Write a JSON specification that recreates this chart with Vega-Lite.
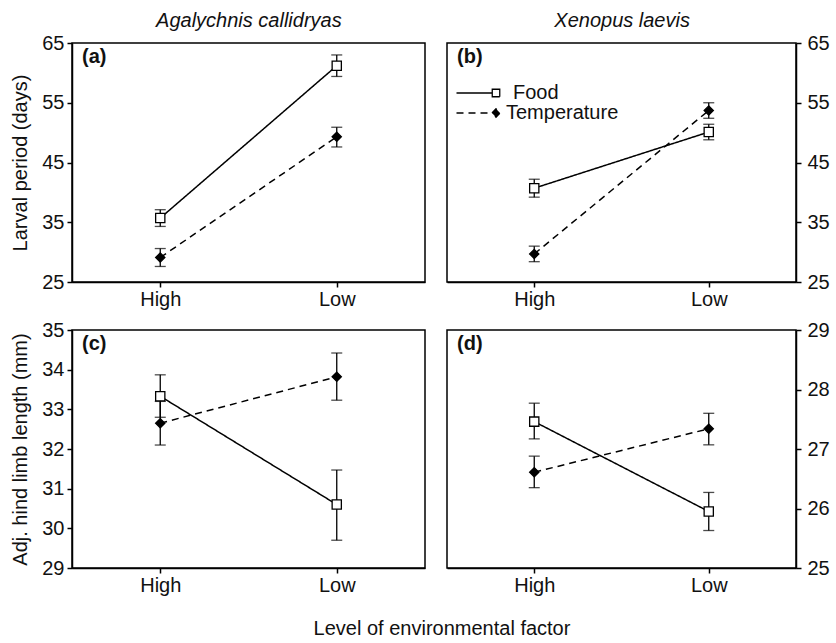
{
  "$schema": "https://vega.github.io/schema/vega-lite/v6.json",
  "padding": {"left": 10, "top": 11, "right": 3, "bottom": 3},
  "background": "white",
  "config": {
    "font": "Liberation Sans",
    "view": {"stroke": "black", "strokeWidth": 1.5},
    "title": {"fontSize": 20, "fontWeight": "normal", "color": "#111", "font": "Liberation Sans"},
    "axis": {
      "domainColor": "black", "domainWidth": 1.5, "tickColor": "black", "tickWidth": 1.5, "tickSize": 5,
      "labelFontSize": 20, "labelColor": "#111", "labelFont": "Liberation Sans", "labelPadding": 3,
      "labelOverlap": false,
      "titleFontSize": 20, "titleFontWeight": "normal", "titleColor": "#111", "titleFont": "Liberation Sans",
      "grid": false
    },
    "legend": {"labelFont": "Liberation Sans"}
  },
  "data": {"values": [
    {"panel": "a", "factor": "Food", "level": "High", "mean": 35.7, "lo": 34.3, "hi": 37.1},
    {"panel": "a", "factor": "Food", "level": "Low", "mean": 61.2, "lo": 59.4, "hi": 63.0},
    {"panel": "a", "factor": "Temperature", "level": "High", "mean": 29.1, "lo": 27.6, "hi": 30.6},
    {"panel": "a", "factor": "Temperature", "level": "Low", "mean": 49.3, "lo": 47.6, "hi": 50.9},
    {"panel": "b", "factor": "Food", "level": "High", "mean": 40.7, "lo": 39.2, "hi": 42.2},
    {"panel": "b", "factor": "Food", "level": "Low", "mean": 50.1, "lo": 48.8, "hi": 51.4},
    {"panel": "b", "factor": "Temperature", "level": "High", "mean": 29.7, "lo": 28.4, "hi": 31.0},
    {"panel": "b", "factor": "Temperature", "level": "Low", "mean": 53.7, "lo": 52.4, "hi": 55.0},
    {"panel": "c", "factor": "Food", "level": "High", "mean": 33.33, "lo": 32.8, "hi": 33.87},
    {"panel": "c", "factor": "Food", "level": "Low", "mean": 30.6, "lo": 29.7, "hi": 31.47},
    {"panel": "c", "factor": "Temperature", "level": "High", "mean": 32.65, "lo": 32.1, "hi": 33.2},
    {"panel": "c", "factor": "Temperature", "level": "Low", "mean": 33.82, "lo": 33.23, "hi": 34.42},
    {"panel": "d", "factor": "Food", "level": "High", "mean": 27.46, "lo": 27.17, "hi": 27.77},
    {"panel": "d", "factor": "Food", "level": "Low", "mean": 25.95, "lo": 25.63, "hi": 26.27},
    {"panel": "d", "factor": "Temperature", "level": "High", "mean": 26.61, "lo": 26.35, "hi": 26.88},
    {"panel": "d", "factor": "Temperature", "level": "Low", "mean": 27.34, "lo": 27.07, "hi": 27.6}
  ]},
  "title": {"text": "Level of environmental factor", "orient": "bottom", "anchor": "middle", "offset": 23, "dx": 22},
  "spacing": 20,
  "resolve": {"legend": {"strokeDash": "independent"}},
  "hconcat": [
    {
      "title": {"text": "Agalychnis callidryas", "fontStyle": "italic", "anchor": "middle", "offset": 1, "dx": 31},
      "spacing": 9,
      "vconcat": [
        {
          "width": 353, "height": 239,
          "title": {"text": "(a)", "anchor": "start", "frame": "group", "offset": 0, "dx": 10, "dy": 50, "fontWeight": "bold", "baseline": "alphabetic"},
          "transform": [{"filter": "datum.panel == 'a'"}],
          "encoding": {"x": {"field": "level", "type": "ordinal", "scale": {"type": "point", "padding": 0.5, "domain": ["High", "Low"]}, "axis": {"title": null, "labelAngle": 0, "labelPadding": 2}}},
          "layer": [
            {"mark": {"type": "line", "color": "black", "strokeWidth": 1.5},
             "encoding": {"y": {"field": "mean", "type": "quantitative", "title": "Larval period (days)", "scale": {"domain": [25, 65], "nice": false, "zero": false}, "axis": {"values": [25, 35, 45, 55, 65], "format": "d", "titlePadding": 11}},
                          "strokeDash": {"field": "factor", "type": "nominal", "scale": {"domain": ["Food", "Temperature"], "range": [[1, 0], [7, 5]]}, "legend": null}}},
            {"mark": {"type": "rule", "color": "black", "strokeWidth": 1.3},
             "encoding": {"y": {"field": "lo", "type": "quantitative", "title": "Larval period (days)", "axis": {"values": [25, 35, 45, 55, 65], "format": "d", "titlePadding": 11}}, "y2": {"field": "hi"}}},
            {"mark": {"type": "tick", "color": "black", "size": 11, "thickness": 1.3},
             "encoding": {"y": {"field": "lo", "type": "quantitative", "title": "Larval period (days)", "axis": {"values": [25, 35, 45, 55, 65], "format": "d", "titlePadding": 11}}}},
            {"mark": {"type": "tick", "color": "black", "size": 11, "thickness": 1.3},
             "encoding": {"y": {"field": "hi", "type": "quantitative", "title": "Larval period (days)", "axis": {"values": [25, 35, 45, 55, 65], "format": "d", "titlePadding": 11}}}},
            {"mark": {"type": "point", "filled": true, "stroke": "black", "strokeWidth": 1.3, "opacity": 1, "size": 85},
             "encoding": {"y": {"field": "mean", "type": "quantitative", "title": "Larval period (days)", "axis": {"values": [25, 35, 45, 55, 65], "format": "d", "titlePadding": 11}},
                          "shape": {"field": "factor", "type": "nominal", "scale": {"domain": ["Food", "Temperature"], "range": ["square", "diamond"]}, "legend": null},
                          "fill": {"field": "factor", "type": "nominal", "scale": {"domain": ["Food", "Temperature"], "range": ["white", "black"]}, "legend": null}}}
          ]
        },
        {
          "width": 353, "height": 238,
          "title": {"text": "(c)", "anchor": "start", "frame": "group", "offset": 0, "dx": 10, "dy": 50, "fontWeight": "bold", "baseline": "alphabetic"},
          "transform": [{"filter": "datum.panel == 'c'"}],
          "encoding": {"x": {"field": "level", "type": "ordinal", "scale": {"type": "point", "padding": 0.5, "domain": ["High", "Low"]}, "axis": {"title": null, "labelAngle": 0, "labelPadding": 2}}},
          "layer": [
            {"mark": {"type": "line", "color": "black", "strokeWidth": 1.5},
             "encoding": {"y": {"field": "mean", "type": "quantitative", "title": "Adj. hind limb length (mm)", "scale": {"domain": [29, 35], "nice": false, "zero": false}, "axis": {"values": [29, 30, 31, 32, 33, 34, 35], "format": "d", "titlePadding": 11}},
                          "strokeDash": {"field": "factor", "type": "nominal", "scale": {"domain": ["Food", "Temperature"], "range": [[1, 0], [7, 5]]}, "legend": null}}},
            {"mark": {"type": "rule", "color": "black", "strokeWidth": 1.3},
             "encoding": {"y": {"field": "lo", "type": "quantitative", "title": "Adj. hind limb length (mm)", "axis": {"values": [29, 30, 31, 32, 33, 34, 35], "format": "d", "titlePadding": 11}}, "y2": {"field": "hi"}}},
            {"mark": {"type": "tick", "color": "black", "size": 11, "thickness": 1.3},
             "encoding": {"y": {"field": "lo", "type": "quantitative", "title": "Adj. hind limb length (mm)", "axis": {"values": [29, 30, 31, 32, 33, 34, 35], "format": "d", "titlePadding": 11}}}},
            {"mark": {"type": "tick", "color": "black", "size": 11, "thickness": 1.3},
             "encoding": {"y": {"field": "hi", "type": "quantitative", "title": "Adj. hind limb length (mm)", "axis": {"values": [29, 30, 31, 32, 33, 34, 35], "format": "d", "titlePadding": 11}}}},
            {"mark": {"type": "point", "filled": true, "stroke": "black", "strokeWidth": 1.3, "opacity": 1, "size": 85},
             "encoding": {"y": {"field": "mean", "type": "quantitative", "title": "Adj. hind limb length (mm)", "axis": {"values": [29, 30, 31, 32, 33, 34, 35], "format": "d", "titlePadding": 11}},
                          "shape": {"field": "factor", "type": "nominal", "scale": {"domain": ["Food", "Temperature"], "range": ["square", "diamond"]}, "legend": null},
                          "fill": {"field": "factor", "type": "nominal", "scale": {"domain": ["Food", "Temperature"], "range": ["white", "black"]}, "legend": null}}}
          ]
        }
      ]
    },
    {
      "title": {"text": "Xenopus laevis", "fontStyle": "italic", "anchor": "middle", "offset": 1, "dx": -16},
      "spacing": 9,
      "resolve": {"legend": {"strokeDash": "independent"}},
      "vconcat": [
        {
          "width": 349, "height": 239,
          "title": {"text": "(b)", "anchor": "start", "frame": "group", "offset": 0, "dx": 10, "dy": 50, "fontWeight": "bold", "baseline": "alphabetic"},
          "transform": [{"filter": "datum.panel == 'b'"}],
          "encoding": {"x": {"field": "level", "type": "ordinal", "scale": {"type": "point", "padding": 0.5, "domain": ["High", "Low"]}, "axis": {"title": null, "labelAngle": 0, "labelPadding": 2}}},
          "layer": [
            {"mark": {"type": "line", "color": "black", "strokeWidth": 1.5},
             "encoding": {"y": {"field": "mean", "type": "quantitative", "title": null, "scale": {"domain": [25, 65], "nice": false, "zero": false}, "axis": {"orient": "right", "values": [25, 35, 45, 55, 65], "format": "d", "labelPadding": 6}},
                          "strokeDash": {"field": "factor", "type": "nominal", "scale": {"domain": ["Food", "Temperature"], "range": [[1, 0], [7, 5]]},
                            "legend": {
                              "title": null, "orient": "none", "legendX": 39, "legendY": 40, "padding": 0,
                              "symbolSize": 100, "symbolStrokeWidth": 1.3, "symbolStrokeColor": "black",
                              "labelFontSize": 20, "labelColor": "#111", "labelOffset": 6, "rowPadding": 0,
                              "encode": {
                                "symbols": {"update": {
                                  "shape": {"signal": "datum.value == 'Food' ? 'M-7.9,0H-0.75M-0.75,-0.75H0.75V0.75H-0.75Z' : 'M-7.9,0H-0.8M-0.8,0L0,-0.85L0.8,0L0,0.85Z'"},
                                  "fill": {"signal": "datum.value == 'Food' ? 'white' : 'black'"},
                                  "stroke": {"value": "black"},
                                  "strokeDash": {"signal": "datum.value == 'Food' ? [1, 0] : [6, 5]"}
                                }},
                                "labels": {"update": {"dx": {"signal": "datum.value == 'Food' ? 1 : -6"}}}
                              }
                            }}}},
            {"mark": {"type": "rule", "color": "black", "strokeWidth": 1.3},
             "encoding": {"y": {"field": "lo", "type": "quantitative", "title": null, "axis": {"orient": "right", "values": [25, 35, 45, 55, 65], "format": "d", "labelPadding": 6}}, "y2": {"field": "hi"}}},
            {"mark": {"type": "tick", "color": "black", "size": 11, "thickness": 1.3},
             "encoding": {"y": {"field": "lo", "type": "quantitative", "title": null, "axis": {"orient": "right", "values": [25, 35, 45, 55, 65], "format": "d", "labelPadding": 6}}}},
            {"mark": {"type": "tick", "color": "black", "size": 11, "thickness": 1.3},
             "encoding": {"y": {"field": "hi", "type": "quantitative", "title": null, "axis": {"orient": "right", "values": [25, 35, 45, 55, 65], "format": "d", "labelPadding": 6}}}},
            {"mark": {"type": "point", "filled": true, "stroke": "black", "strokeWidth": 1.3, "opacity": 1, "size": 85},
             "encoding": {"y": {"field": "mean", "type": "quantitative", "title": null, "axis": {"orient": "right", "values": [25, 35, 45, 55, 65], "format": "d", "labelPadding": 6}},
                          "shape": {"field": "factor", "type": "nominal", "scale": {"domain": ["Food", "Temperature"], "range": ["square", "diamond"]}, "legend": null},
                          "fill": {"field": "factor", "type": "nominal", "scale": {"domain": ["Food", "Temperature"], "range": ["white", "black"]}, "legend": null}}}
          ]
        },
        {
          "width": 349, "height": 238,
          "title": {"text": "(d)", "anchor": "start", "frame": "group", "offset": 0, "dx": 10, "dy": 50, "fontWeight": "bold", "baseline": "alphabetic"},
          "transform": [{"filter": "datum.panel == 'd'"}],
          "encoding": {"x": {"field": "level", "type": "ordinal", "scale": {"type": "point", "padding": 0.5, "domain": ["High", "Low"]}, "axis": {"title": null, "labelAngle": 0, "labelPadding": 2}}},
          "layer": [
            {"mark": {"type": "line", "color": "black", "strokeWidth": 1.5},
             "encoding": {"y": {"field": "mean", "type": "quantitative", "title": null, "scale": {"domain": [25, 29], "nice": false, "zero": false}, "axis": {"orient": "right", "values": [25, 26, 27, 28, 29], "format": "d", "labelPadding": 6}},
                          "strokeDash": {"field": "factor", "type": "nominal", "scale": {"domain": ["Food", "Temperature"], "range": [[1, 0], [7, 5]]}, "legend": null}}},
            {"mark": {"type": "rule", "color": "black", "strokeWidth": 1.3},
             "encoding": {"y": {"field": "lo", "type": "quantitative", "title": null, "axis": {"orient": "right", "values": [25, 26, 27, 28, 29], "format": "d", "labelPadding": 6}}, "y2": {"field": "hi"}}},
            {"mark": {"type": "tick", "color": "black", "size": 11, "thickness": 1.3},
             "encoding": {"y": {"field": "lo", "type": "quantitative", "title": null, "axis": {"orient": "right", "values": [25, 26, 27, 28, 29], "format": "d", "labelPadding": 6}}}},
            {"mark": {"type": "tick", "color": "black", "size": 11, "thickness": 1.3},
             "encoding": {"y": {"field": "hi", "type": "quantitative", "title": null, "axis": {"orient": "right", "values": [25, 26, 27, 28, 29], "format": "d", "labelPadding": 6}}}},
            {"mark": {"type": "point", "filled": true, "stroke": "black", "strokeWidth": 1.3, "opacity": 1, "size": 85},
             "encoding": {"y": {"field": "mean", "type": "quantitative", "title": null, "axis": {"orient": "right", "values": [25, 26, 27, 28, 29], "format": "d", "labelPadding": 6}},
                          "shape": {"field": "factor", "type": "nominal", "scale": {"domain": ["Food", "Temperature"], "range": ["square", "diamond"]}, "legend": null},
                          "fill": {"field": "factor", "type": "nominal", "scale": {"domain": ["Food", "Temperature"], "range": ["white", "black"]}, "legend": null}}}
          ]
        }
      ]
    }
  ]
}
